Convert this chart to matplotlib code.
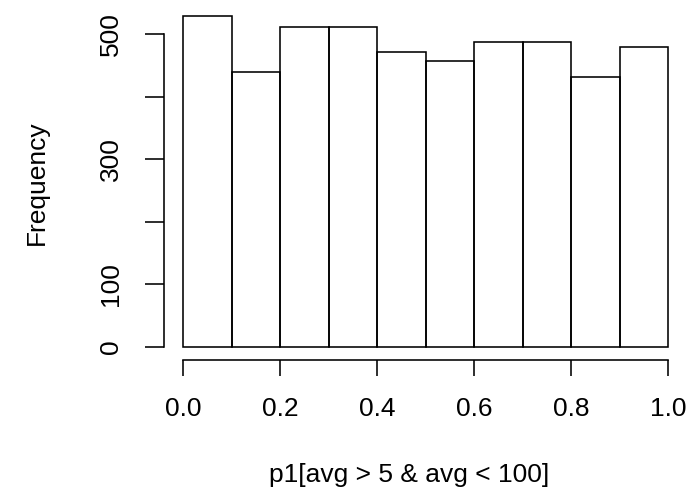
import numpy as np
import matplotlib
matplotlib.use("Agg")
import matplotlib.pyplot as plt

# histogram of p1[avg > 5 & avg < 100], bin width 0.1
bin_edges = [0.0, 0.1, 0.2, 0.3, 0.4, 0.5, 0.6, 0.7, 0.8, 0.9, 1.0]
counts = [529, 439, 511, 512, 471, 457, 487, 487, 431, 479]
x_ticks = [0.0, 0.2, 0.4, 0.6, 0.8, 1.0]
x_tick_labels = ["0.0", "0.2", "0.4", "0.6", "0.8", "1.0"]
y_ticks = [0, 100, 200, 300, 400, 500]
y_tick_labels = ["0", "100", "", "300", "", "500"]

plt.rcParams["font.family"] = ["Liberation Sans", "DejaVu Sans"]
fs = 19

fig = plt.figure(figsize=(6.98, 4.98), dpi=100)
W, H = 698, 498
left, right, top, bottom = 163.9, 687.4, 3.0, 360.0
ax = fig.add_axes([left / W, 1 - bottom / H, (right - left) / W, (bottom - top) / H])

edges = np.array(bin_edges)
ax.bar(edges[:-1], counts, width=np.diff(edges), align="edge",
       fill=False, edgecolor="black", linewidth=1.15)

ax.set_xlim(-0.04, 1.04)
ax.set_ylim(-0.04 * max(counts), 1.04 * max(counts))

for s in ["top", "right"]:
    ax.spines[s].set_visible(False)
ax.spines["left"].set_bounds(0, 500)
ax.spines["bottom"].set_bounds(0, 1)
ax.spines["left"].set_linewidth(1.15)
ax.spines["bottom"].set_linewidth(1.15)

ax.set_xticks(x_ticks)
ax.set_xticklabels(x_tick_labels)
ax.set_yticks(y_ticks)
ax.set_yticklabels(y_tick_labels)
ax.tick_params(axis="x", length=11.5, width=1.15, pad=15, labelsize=fs)
ax.tick_params(axis="y", length=13.7, width=1.15, pad=16, labelsize=fs,
               labelrotation=90)
for lbl in ax.get_yticklabels():
    lbl.set_va("center")

ax.set_xlabel("p1[avg > 5 & avg < 100]", fontsize=fs)
ax.xaxis.set_label_coords((409 - left) / (right - left), (bottom - 475) / (bottom - top))
ax.xaxis.label.set_va("center")
ax.set_ylabel("Frequency", fontsize=fs)
ax.yaxis.set_label_coords((37 - left) / (right - left), (bottom - 183) / (bottom - top))
ax.yaxis.label.set_va("center")

plt.savefig("out.png", dpi=100)
